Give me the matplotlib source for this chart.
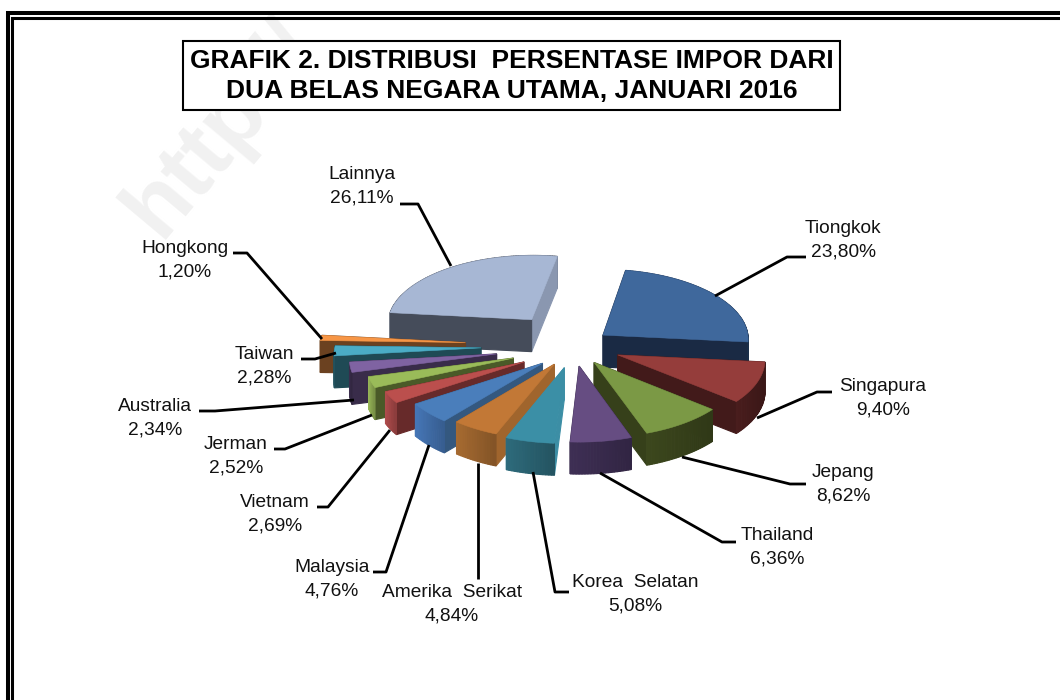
import matplotlib
matplotlib.use("Agg")
import matplotlib.pyplot as plt
from matplotlib.colors import to_rgb
import numpy as np

plt.rcParams['font.family'] = ['Liberation Sans', 'DejaVu Sans']

countries = ['Tiongkok', 'Singapura', 'Jepang', 'Thailand', 'Korea  Selatan', 'Amerika  Serikat', 'Malaysia',
             'Vietnam', 'Jerman', 'Australia', 'Taiwan', 'Hongkong', 'Lainnya']
shares = [23.80, 9.40, 8.62, 6.36, 5.08, 4.84, 4.76, 2.69, 2.52, 2.34, 2.28, 1.20, 26.11]

# how far each slice is pulled out of the pie, and a small drop in pixels
explode = [.26, .33, .25, .3, .27, .25, .28, .38, .43, .53, .63, .74, .48]
drop = [0, 0, 2, -1, 3, 3, 4, 3, 2, 1, 0, 0, 0]

top_cols = ['#3f689c', '#953d3b', '#7b9945', '#664d82', '#3b8fa6', '#c27836', '#4a7ebb',
            '#bb4f4d', '#9abb59', '#7f63a2', '#4bacc6', '#f79646', '#a7b7d4']
rim_cols = ['#1f3554', '#421a1a', '#36401a', '#382a4c', '#29606f', '#96602c', '#3f6ba5',
            '#a04545', '#8aa650', '#392c4a', '#1f4a55', '#6b4120', '#454c5a']
cut_a_cols = ['#1a2a44', '#421a1a', '#36401a', '#382a4c', '#3c8ea5', '#a0652d', '#34587f',
              '#672a2a', '#4a5a28', '#392c4a', '#1f4a55', '#6b4120', '#454c5a']
cut_b_cols = ['#1a2a44', '#421a1a', '#36401a', '#382a4c', '#3c8ea5', '#a0652d', '#34587f',
              '#672a2a', '#4a5a28', '#392c4a', '#1f4a55', '#6b4120', '#8a97b0']

# label text position, then leader line points
label_pos = [(843, 240), (883, 398), (843, 484), (777, 547), (635, 594), (452, 604), (332, 579),
             (275, 514), (236, 456), (155, 418), (264, 366), (185, 260), (362, 186)]
leaders = [[(806, 257), (787, 257), (715, 296)],
           [(832, 392), (817, 392), (757, 418)],
           [(806, 484), (790, 484), (682, 457)],
           [(736, 542), (722, 542), (600, 473)],
           [(569, 592), (555, 592), (533, 472)],
           [(478, 579), (478, 463)],
           [(373, 572), (386, 572), (429, 445)],
           [(317, 507), (328, 507), (390, 430)],
           [(274, 449), (285, 449), (372, 415)],
           [(199, 411), (215, 411), (354, 400)],
           [(301, 359), (315, 359), (336, 353)],
           [(233, 253), (247, 253), (322, 339)],
           [(400, 204), (418, 204), (451, 266)]]

cx, cy = 573, 346
rx, ry = 146, 70
persp = 0.05
wall = 32
start = 10


def project(u, v):
    s = 1 / (1 + persp * v)
    return cx + rx * u * s, cy - ry * v * s


fig = plt.figure(figsize=(10.6, 7), dpi=100)
ax = fig.add_axes([0, 0, 1, 1])
ax.set_xlim(0, 1060)
ax.set_ylim(700, 0)
ax.axis('off')

# watermark
ax.text(160, 240, 'http://', fontsize=65, fontweight='bold', color='#f1f1f1',
        rotation=50, rotation_mode='anchor', ha='left', va='baseline', zorder=0)

# page border
ax.plot([1060, 7.5, 7.5], [13, 13, 700], color='black', lw=2.9, solid_joinstyle='miter', zorder=1)
ax.plot([1060, 12, 12], [18, 18, 700], color='black', lw=2.2, solid_joinstyle='miter', zorder=1)

angles = start + np.cumsum([0] + shares) * 3.6
slices = []
for i in range(len(shares)):
    a0, a1 = np.radians(angles[i]), np.radians(angles[i + 1])
    mid = (a0 + a1) / 2
    eu, ev = explode[i] * np.sin(mid), explode[i] * np.cos(mid)
    t = np.linspace(a0, a1, max(int(np.degrees(a1 - a0)), 3))
    rim = np.array([project(eu + np.sin(x), ev + np.cos(x)) for x in t]) + [0, drop[i]]
    apex = np.array(project(eu, ev)) + [0, drop[i]]
    slices.append((apex[1], i, apex, rim))


def quad(p, q, col, z):
    xs = [p[0], q[0], q[0], p[0]]
    ys = [p[1], q[1], q[1] + wall, p[1] + wall]
    ax.fill(xs, ys, facecolor=col, edgecolor=col, lw=.8, zorder=z)


z = 2
for _, i, apex, rim in sorted(slices, key=lambda s: s[0]):
    faces = [(apex, rim[0], cut_a_cols[i]), (rim[-1], apex, cut_b_cols[i])]
    for p, q in zip(rim[:-1], rim[1:]):
        # rim a bit lighter towards the left of each slice
        k = np.clip(1.12 - .24 * (p[0] - rim[:, 0].min()) / max(np.ptp(rim[:, 0]), 1), 0, 1.2)
        faces.append((p, q, tuple(np.clip(np.array(to_rgb(rim_cols[i])) * k, 0, 1))))
    # back faces first
    for p, q, col in sorted(faces, key=lambda f: f[0][1] + f[1][1]):
        z += .01
        quad(p, q, col, z)
    z += .01
    outline = np.vstack([apex, rim])
    ax.fill(outline[:, 0], outline[:, 1], facecolor=top_cols[i], edgecolor=top_cols[i], lw=.4, zorder=z)

# labels and leader lines
for name, val, pos, pts in zip(countries, shares, label_pos, leaders):
    txt = name + '\n' + ('%.2f' % val).replace('.', ',') + '%'
    ax.text(pos[0], pos[1], txt, ha='center', va='center', fontsize=13.8, linespacing=1.5, color='#111111', zorder=50)
    pts = np.array(pts)
    ax.plot(pts[:, 0], pts[:, 1], color='black', lw=2, zorder=40, solid_capstyle='butt')

# title box
ax.fill([183, 840, 840, 183], [41, 41, 110, 110], facecolor='white', edgecolor='black', lw=1.5, zorder=60)
ax.text(511.5, 76, 'GRAFIK 2. DISTRIBUSI  PERSENTASE IMPOR DARI\nDUA BELAS NEGARA UTAMA, JANUARI 2016',
        ha='center', va='center', fontsize=19, fontweight='bold', linespacing=1.28, zorder=61)

fig.savefig('out.png', dpi=100)
